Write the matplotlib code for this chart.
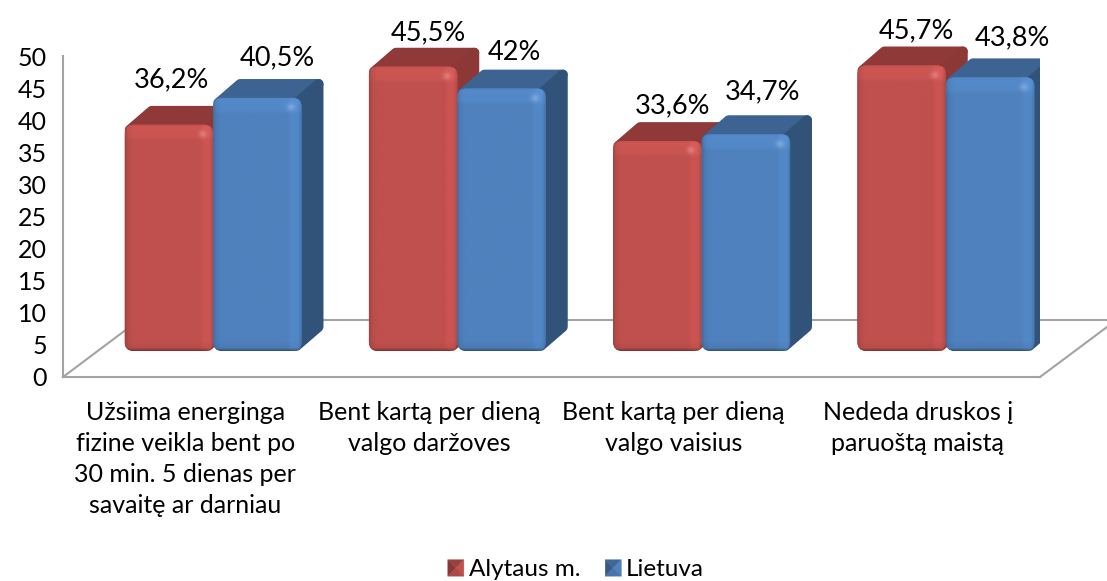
import matplotlib

matplotlib.use("Agg")
import matplotlib.pyplot as plt
import numpy as np
from matplotlib.colors import to_rgb
from matplotlib.legend_handler import HandlerBase
from matplotlib.patches import FancyBboxPatch, Patch, Polygon

categories = [
    "Užsiima energinga\nfizine veikla bent po\n30 min. 5 dienas per\nsavaitę ar darniau",
    "Bent kartą per dieną\nvalgo daržoves",
    "Bent kartą per dieną\nvalgo vaisius",
    "Nededa druskos į\nparuoštą maistą",
]
series_names = ["Alytaus m.", "Lietuva"]
alytus = [36.2, 45.5, 33.6, 45.7]
lietuva = [40.5, 42, 34.7, 43.8]
y_ticks = [0, 5, 10, 15, 20, 25, 30, 35, 40, 45, 50]

W, H = 1107, 581
FONT = 18
LABEL_FONT = 19.5
GREY = "#a3a3a3"

PX_X = 977 / 4  # pixels per category
PX_Y = 6.25  # pixels per value unit on the bar plane
BAR_W = 88.5 / PX_X
SHIFT = 28 / PX_X
DEPTH_X = 22 / PX_X
DEPTH_Y = 19 / PX_Y

colors = [
    {"front": "#c0504d", "top": "#8f3a38", "side": "#8c3836"},
    {"front": "#4f81bd", "top": "#3c6391", "side": "#315279"},
]
# hand placed in the original, in pixels from the middle of the bar top
label_shift = [
    [(3, 45), (20, 40)],
    [(15, 34), (13, 36)],
    [(15, 35), (17, 42)],
    [(15, 35), (22, 39)],
]

plt.rcParams["font.family"] = ["Lato", "DejaVu Sans"]


def bevel_image(color, w, h):
    # front face shading: light bands on top and right, dark foot
    px = np.arange(w) + 0.5
    py = np.arange(h) + 0.5
    fx = np.interp(px, [0, 3, 8, w - 14, w - 10, w - 4, w], [0.82, 0.95, 1, 1, 1.05, 1.05, 0.88])
    fy = np.interp(py, [0, 3, 13, 17, h - 10, h - 3, h], [1.0, 1.07, 1.05, 1, 1, 0.95, 0.6])
    shade = np.outer(fy, fx)
    xx, yy = np.meshgrid(px, py)
    glow = 0.22 * np.exp(-(((xx - (w - 11)) / 4) ** 2 + ((yy - 10) / 3.5) ** 2))
    rgb = np.clip(shade[..., None] * np.array(to_rgb(color)), 0, 1)
    return rgb + (1 - rgb) * glow[..., None]


def draw_bar(ax, x0, value, style, z):
    x1 = x0 + BAR_W
    inset_x, inset_y = 5 / PX_X, 5 / PX_Y
    top = Polygon(
        [
            (x0 + inset_x, value - inset_y),
            (x0 + DEPTH_X + inset_x, value + DEPTH_Y - inset_y),
            (x1 + DEPTH_X - inset_x, value + DEPTH_Y - inset_y),
            (x1 - inset_x, value - inset_y),
        ],
        fc=style["top"], ec=style["top"], lw=7, joinstyle="round", zorder=z,
    )
    side = Polygon(
        [
            (x1 - inset_x, value - inset_y),
            (x1 + DEPTH_X - inset_x, value + DEPTH_Y - inset_y),
            (x1 + DEPTH_X - inset_x, DEPTH_Y + inset_y),
            (x1 - inset_x, inset_y),
        ],
        fc=style["side"], ec=style["side"], lw=7, joinstyle="round", zorder=z + 0.1,
    )
    ax.add_patch(top)
    ax.add_patch(side)
    radius = 9 / PX_X
    box = FancyBboxPatch(
        (x0, 0), BAR_W, value,
        boxstyle=f"round,pad=0,rounding_size={radius}",
        mutation_aspect=PX_X / PX_Y, fc=style["front"], ec="none", zorder=z + 0.2,
    )
    ax.add_patch(box)
    img = bevel_image(style["front"], int(round(BAR_W * PX_X)), int(round(value * PX_Y)))
    im = ax.imshow(img, extent=(x0, x1, 0, value), aspect="auto", interpolation="bilinear", zorder=z + 0.3)
    im.set_clip_path(box)


class PyramidHandler(HandlerBase):
    def create_artists(self, legend, orig, xd, yd, width, height, fontsize, trans):
        c = np.array(to_rgb(orig.get_facecolor()))
        x0, y0, x1, y1 = -xd, -yd, width - xd, height - yd
        mx, my = (x0 + x1) / 2, (y0 + y1) / 2
        faces = [
            ([(x0, y0), (x0, y1), (mx, my)], 0.7),
            ([(x0, y1), (x1, y1), (mx, my)], 0.8),
            ([(x1, y1), (x1, y0), (mx, my)], 1.0),
            ([(x1, y0), (x0, y0), (mx, my)], 0.9),
        ]
        return [Polygon(p, fc=c * k, ec=c * k, lw=0.3, transform=trans) for p, k in faces]


fig = plt.figure(figsize=(W / 100, H / 100), dpi=100)

# frame: left wall, floor, ticks
frame = fig.add_axes([63 / W, (H - 377) / H, 977 / W, 321 / H])
frame.set_xlim(-0.5, 3.5)
frame.set_ylim(0, 50)
frame.patch.set_visible(False)
for name in ["top", "right"]:
    frame.spines[name].set_visible(False)
for name in ["left", "bottom"]:
    frame.spines[name].set_color(GREY)
    frame.spines[name].set_linewidth(1.5)
frame.set_yticks(y_ticks)
frame.set_xticks(range(len(categories)))
frame.set_xticklabels(categories, linespacing=1.43, va="top")
frame.tick_params(axis="y", length=0, pad=11.5, labelsize=FONT)
frame.tick_params(axis="x", length=0, pad=17, labelsize=FONT)

floor_x = 76 / PX_X
floor_y = 57 / (321 / 50)
frame.plot([-0.5, -0.5 + floor_x], [0, floor_y], color=GREY, lw=1.5, clip_on=False)
frame.plot([-0.5 + floor_x, 3.5 + 67 / PX_X], [floor_y, floor_y], color=GREY, lw=1.5, clip_on=False)
frame.plot([3.5, 3.5 + 67 / PX_X], [0, 50 / (321 / 50)], color=GREY, lw=1.5, clip_on=False)

# front plane of the bars
ax = fig.add_axes([63 / W, (H - 351) / H, 977 / W, 50 * PX_Y / H])
ax.patch.set_visible(False)
ax.axis("off")
for i, (a, b) in enumerate(zip(alytus, lietuva)):
    for j, value in enumerate((a, b)):
        x0 = i + SHIFT - BAR_W + j * BAR_W
        draw_bar(ax, x0, value, colors[j], 2 + i + j * 0.5)
        text = f"{value}%".replace(".", ",")
        dx, dy = label_shift[i][j]
        ax.annotate(
            text, (x0 + BAR_W / 2, value), xytext=(dx, dy), textcoords="offset pixels",
            ha="center", va="center", fontsize=LABEL_FONT, color="black",
            annotation_clip=False, zorder=20,
        )
ax.set_xlim(-0.5, 3.5)
ax.set_ylim(0, 50)

handles = [Patch(fc=colors[0]["front"], label=series_names[0]), Patch(fc=colors[1]["front"], label=series_names[1])]
fig.legend(
    handles=handles,
    loc="center",
    bbox_to_anchor=(576 / W, (H - 570) / H),
    ncol=2,
    frameon=False,
    fontsize=17.5,
    handler_map={Patch: PyramidHandler()},
    handlelength=0.66,
    handleheight=0.66,
    handletextpad=0.2,
    columnspacing=1.03,
    borderpad=0,
)

fig.savefig("out.png", dpi=100)
